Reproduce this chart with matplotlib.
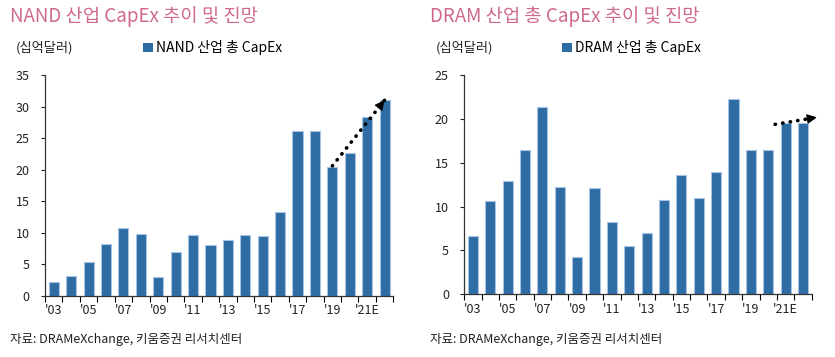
import matplotlib.pyplot as plt
from matplotlib.patches import Patch

plt.rcParams['font.family'] = ['Noto Sans CJK KR', 'DejaVu Sans']

years = ["'03", "", "'05", "", "'07", "", "'09", "", "'11", "", "'13", "", "'15", "",
         "'17", "", "'19", "", "'21E", ""]
nand_capex = [2.2, 3.2, 5.3, 8.2, 10.8, 9.8, 3.0, 7.0, 9.7, 8.1,
              8.8, 9.7, 9.5, 13.3, 26.2, 26.2, 20.4, 22.7, 28.4, 31.1]
dram_capex = [6.6, 10.7, 12.9, 16.5, 21.4, 12.2, 4.3, 12.1, 8.2, 5.5,
              7.0, 10.8, 13.6, 11.0, 13.9, 22.3, 16.5, 16.5, 19.5, 19.5]

bar_color = '#2e6ca4'
edge_color = '#a8c4e4'
title_color = '#d0698f'
text_color = '#222222'

fig = plt.figure(figsize=(8.35, 3.57), dpi=100)


def draw_panel(rect, values, ymax, label, title, title_x, arrow, fx):
    ax = fig.add_axes(rect)
    x = range(len(values))
    ax.bar(x, values, width=0.58, color=bar_color, edgecolor=edge_color, linewidth=0.8, zorder=2)
    ax.set_xlim(-0.5, len(values) - 0.5)
    ax.set_ylim(0, ymax)
    ax.set_yticks(range(0, ymax + 1, 5))
    ax.tick_params(axis='y', length=3, width=0.8, labelsize=9, colors=text_color, pad=8)
    # x ticks at category boundaries, labels centered under bars
    ax.set_xticks([i - 0.5 for i in range(len(values) + 1)])
    ax.set_xticklabels([])
    ax.set_xticks(list(x), minor=True)
    ax.set_xticklabels(years, minor=True, fontsize=9, color=text_color)
    ax.tick_params(axis='x', which='major', length=4, width=0.8, direction='out')
    ax.tick_params(axis='x', which='minor', length=0, pad=6)
    for s in ['top', 'right']:
        ax.spines[s].set_visible(False)
    for s in ['left', 'bottom']:
        ax.spines[s].set_linewidth(0.9)
        ax.spines[s].set_color('#333333')
    (x0, y0), (x1, y1) = arrow
    ax.plot([x0, x1], [y0, y1], linestyle=(0, (0.1, 2.0)), lw=2.6, color='black',
            dash_capstyle='round', zorder=3, clip_on=False)
    ax.annotate('', xy=(x1, y1), xytext=(x0 + (x1 - x0) * 0.9, y0 + (y1 - y0) * 0.9),
                annotation_clip=False,
                arrowprops=dict(arrowstyle='-|>', lw=0.8, color='black',
                                mutation_scale=15, shrinkA=0, shrinkB=0),
                zorder=3)
    fig.text(title_x, 0.953, title, fontsize=13.5, color=title_color, va='center', ha='left')
    fig.text(title_x + 0.007, 0.866, '(십억달러)', fontsize=9.5, color=text_color, va='center')
    ax.legend(handles=[Patch(facecolor=bar_color, edgecolor='none', label=label)],
              loc='center left', bbox_to_anchor=(fx, 0.866), bbox_transform=fig.transFigure,
              frameon=False, fontsize=10, handlelength=0.7, handleheight=0.7,
              handletextpad=0.25, borderaxespad=0, borderpad=0)
    fig.text(title_x, 0.048, '자료: DRAMeXchange, 키움증권 리서치센터', fontsize=9,
             color=text_color, va='center')
    return ax


draw_panel([0.054, 0.171, 0.417, 0.619], nand_capex, 35, 'NAND 산업 총 CapEx',
           'NAND 산업 CapEx 추이 및 진망', 0.012, ((16.0, 20.6), (19.0, 31.0)), 0.171)
draw_panel([0.556, 0.176, 0.416, 0.613], dram_capex, 25, 'DRAM 산업 총 CapEx',
           'DRAM 산업 총 CapEx 추이 및 진망', 0.515, ((17.4, 19.4), (19.8, 20.2)), 0.673)

fig.savefig('out.png', dpi=100)
